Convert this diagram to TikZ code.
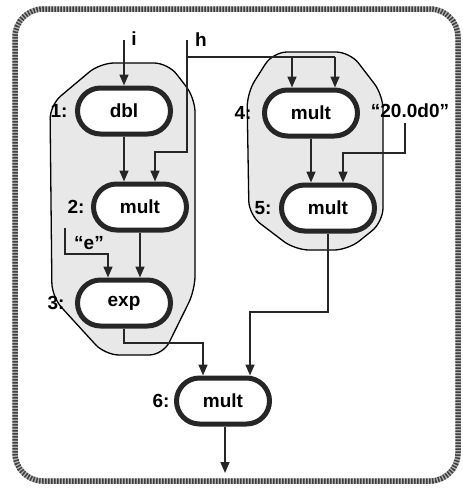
\documentclass[tikz,border=0pt]{standalone}
\usepackage{fontspec}
\setmainfont{Liberation Sans}
\usetikzlibrary{shapes.misc,arrows.meta}
\begin{document}
\begin{tikzpicture}[x=1pt,y=-1pt,
  every node/.style={font=\bfseries\fontsize{19}{22}\selectfont},
  op/.style={rounded rectangle, draw=black!85, line width=5pt, fill=white,
    minimum width=93pt, minimum height=46pt, inner sep=0pt},
  tag/.style={inner sep=0pt},
  arr/.style={draw=black!85, line width=1.6pt,
    -{Triangle[length=11pt,width=9pt]}},
  wire/.style={draw=black!85, line width=1.6pt},
  region/.style={draw=black, line width=1.3pt, fill=black!9, rounded corners=14pt},
  frame/.style={line width=5.5pt, rounded corners=28pt}]
\useasboundingbox (0,0) rectangle (463,488);

% outer frame, a grainy grey band
\draw[frame, draw=black!30] (15,9) rectangle (458,481);
\draw[frame, draw=black!75, dash pattern=on 1.5pt off 1.5pt] (15,9) rectangle (458,481);

% grouped regions
\draw[region] (100,63) -- (168,63) -- (195,98) -- (195,290) -- (163,355)
  -- (105,355) -- (52,297) -- (50,105) -- cycle;
\draw[region] (273,52) -- (350,52) -- (383,95) -- (383,222) -- (348,250)
  -- (295,250) -- (249,215) -- (247,93) -- cycle;

% operation nodes
\node[op] (n1) at (124,111) {dbl};
\node[op] (n2) at (140,207) {mult};
\node[op] (n3) at (124,303) {exp};
\node[op] (n4) at (311,113) {mult};
\node[op] (n5) at (328,208) {mult};
\node[op] (n6) at (223,401) {mult};

% node numbers
\node[tag] (l1) at (59,111) {1:};
\node[tag] (l2) at (76,207) {2:};
\node[tag] (l3) at (56,303) {3:};
\node[tag] (l4) at (243,113) {4:};
\node[tag] (l5) at (263,208) {5:};
\node[tag] (l6) at (161,401) {6:};

% inputs and constants
\node[tag] (ti) at (134,39) {i};
\node[tag] (th) at (201,40) {h};
\node[tag] (te) at (89,243) {“e”};
\node[tag] (tc) at (410,111) {“20.0d0”};

% wire points
\coordinate (iTop) at (124,40);
\coordinate (hTop) at (187,40);
\coordinate (hTurn) at (187,152);
\coordinate (hIn) at (155,152);
\coordinate (hSplit) at (187,57);
\coordinate (hMid) at (292,57);
\coordinate (hEnd) at (335,57);
\coordinate (eTop) at (65,228);
\coordinate (eTurn) at (65,254);
\coordinate (eIn) at (108,254);
\coordinate (j36) at (203,343);
\coordinate (cTop) at (405,123);
\coordinate (cTurn) at (405,153);
\coordinate (cIn) at (343,153);
\coordinate (j56) at (250,312);
\coordinate (out) at (225,473);

% connectors
\draw[arr] (iTop) -- (n1);
\draw[arr] (hTop) -- (hTurn) -- (hIn) -- (hIn |- n2.north);
\draw[wire] (hSplit) -- (hEnd);
\draw[arr] (hEnd) -- (hEnd |- n4.north);
\draw[arr] (hMid) -- (hMid |- n4.north);
\draw[arr] (n1.south) -- (n1.south |- n2.north);
\draw[arr] (n2.south) -- (n2.south |- n3.north);
\draw[arr] (eTop) -- (eTurn) -- (eIn) -- (eIn |- n3.north);
\draw[arr] (n3.south) |- (j36) -- (j36 |- n6.north);
\draw[arr] (n4.south) -- (n4.south |- n5.north);
\draw[arr] (cTop) -- (cTurn) -- (cIn) -- (cIn |- n5.north);
\draw[arr] (n5.south) |- (j56) -- (j56 |- n6.north);
\draw[arr] (n6.south -| out) -- (out);
\end{tikzpicture}
\end{document}
